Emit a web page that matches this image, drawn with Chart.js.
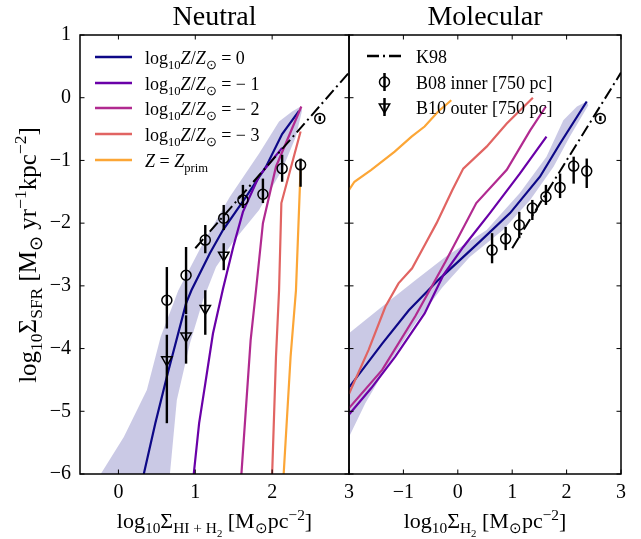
<!DOCTYPE html>
<html>
<head>
<meta charset="utf-8">
<title>Neutral / Molecular</title>
<script src="https://cdn.jsdelivr.net/npm/chart.js@4.4.1/dist/chart.umd.min.js"></script>
<style>
  html, body { margin: 0; padding: 0; background: #fff; }
  #fig { position: relative; width: 641px; height: 539px; overflow: hidden;
         font-family: 'Liberation Serif', 'Times New Roman', serif; color: #000; }
  canvas { position: absolute; top: 0; }
  svg { position: absolute; left: 0; top: 0; }
  .txt { position: absolute; white-space: nowrap; line-height: 1; }
  .txt sub, .txt sup { font-size: 70%; line-height: 0; }
  .title { top: 2px; font-size: 28px; transform: translateX(-50%); }
  .axis { font-size: 22px; }
  .leg { font-size: 18px; }
  #ytitle { left: 27px; top: 255px; font-size: 25px; transform: translate(-50%, -50%) rotate(-90deg); }
</style>
</head>
<body>
<div id="fig">
  <canvas id="neutral" width="362" height="539" style="left:0"></canvas>
  <canvas id="molecular" width="305" height="539" style="left:336px"></canvas>

  <!-- legend keys -->
  <svg width="641" height="539">
    <g stroke-width="2.5">
      <line x1="95" x2="132" y1="57" y2="57" stroke="#0d0887"/>
      <line x1="95" x2="132" y1="83" y2="83" stroke="#6a00a8"/>
      <line x1="95" x2="132" y1="108" y2="108" stroke="#b12a90"/>
      <line x1="95" x2="132" y1="134" y2="134" stroke="#e16462"/>
      <line x1="95" x2="132" y1="160" y2="160" stroke="#fca636"/>
      <line x1="367" x2="402" y1="56" y2="56" stroke="#000" stroke-dasharray="12 4 2 4"/>
    </g>
    <circle cx="384.5" cy="82" r="5" fill="none" stroke="#000" stroke-width="1.5"/>
    <line x1="384.5" x2="384.5" y1="73" y2="91" stroke="#000" stroke-width="2.5"/>
    <polygon points="379.3,104 389.7,104 384.5,113" fill="none" stroke="#000" stroke-width="1.5"/>
    <line x1="384.5" x2="384.5" y1="98" y2="116" stroke="#000" stroke-width="2.5"/>
  </svg>

  <div class="txt title" style="left:214.5px">Neutral</div>
  <div class="txt title" style="left:485px">Molecular</div>

  <div class="txt axis" id="ytitle">log<sub>10</sub>Σ<sub>SFR</sub> [M<sub>⊙</sub> yr<sup>−1</sup>kpc<sup>−2</sup>]</div>
  <div class="txt axis" style="left:214.5px; top:510px; transform:translateX(-50%)">log<sub>10</sub>Σ<sub>HI + H<sub>2</sub></sub> [M<sub>⊙</sub>pc<sup>−2</sup>]</div>
  <div class="txt axis" style="left:485px; top:510px; transform:translateX(-50%)">log<sub>10</sub>Σ<sub>H<sub>2</sub></sub> [M<sub>⊙</sub>pc<sup>−2</sup>]</div>

  <div class="txt leg" style="left:145px; top:48.5px">log<sub>10</sub><i>Z</i>/<i>Z</i><sub>⊙</sub> = 0</div>
  <div class="txt leg" style="left:145px; top:74.5px">log<sub>10</sub><i>Z</i>/<i>Z</i><sub>⊙</sub> = − 1</div>
  <div class="txt leg" style="left:145px; top:99.5px">log<sub>10</sub><i>Z</i>/<i>Z</i><sub>⊙</sub> = − 2</div>
  <div class="txt leg" style="left:145px; top:125.5px">log<sub>10</sub><i>Z</i>/<i>Z</i><sub>⊙</sub> = − 3</div>
  <div class="txt leg" style="left:145px; top:151.5px"><i>Z</i> = <i>Z</i><sub>prim</sub></div>

  <div class="txt leg" style="left:416px; top:47.5px">K98</div>
  <div class="txt leg" style="left:416px; top:73.5px">B08 inner [750 pc]</div>
  <div class="txt leg" style="left:416px; top:98.5px">B10 outer [750 pc]</div>
</div>

<script>
// ---- values ----
const yTicks = [-6, -5, -4, -3, -2, -1, 0, 1];
const xTicksNeutral = [0, 1, 2, 3];
const xTicksMolecular = [-1, 0, 1, 2, 3];

const seriesLabels = ['log10 Z/Zsun = 0', 'log10 Z/Zsun = -1', 'log10 Z/Zsun = -2', 'log10 Z/Zsun = -3', 'Z = Zprim'];

// neutral panel, [log Sigma_HI+H2, log Sigma_SFR]
const neutralZ0 = [[0.33, -6.0], [0.48, -5.19], [0.64, -4.40], [0.88, -3.28], [0.95, -3.07], [1.19, -2.48],
                   [1.36, -2.11], [1.66, -1.58], [1.92, -1.10], [2.13, -0.58], [2.35, -0.21]];
const neutralZm1 = [[0.98, -6.0], [1.05, -5.19], [1.13, -4.56], [1.23, -3.76], [1.36, -3.05], [1.50, -2.35],
                    [1.62, -1.82], [1.83, -1.25], [2.13, -0.80]];
const neutralZm2 = [[1.60, -6.0], [1.72, -3.87], [1.79, -3.07], [1.88, -2.0], [2.05, -1.10], [2.38, -0.14]];
const neutralZm3 = [[2.00, -6.0], [2.05, -4.13], [2.09, -3.07], [2.12, -1.68], [2.37, -0.54]];
const neutralPrim = [[2.15, -6.0], [2.24, -4.13], [2.31, -3.07], [2.37, -1.13]];
const neutralBand = [[-0.30, -6.2], [-0.23, -6.0], [0.07, -5.41], [0.37, -4.66], [0.55, -3.81], [0.78, -3.07],
                     [1.10, -2.32], [1.45, -1.58], [1.83, -0.89], [2.09, -0.38], [2.26, -0.22], [2.37, -0.14],
                     [2.39, -0.20], [2.31, -0.62], [2.13, -1.15], [1.83, -1.79], [1.49, -2.30], [1.27, -2.70],
                     [1.10, -3.23], [0.93, -3.92], [0.76, -4.82], [0.67, -6.0], [0.66, -6.2]];

// molecular panel, [log Sigma_H2, log Sigma_SFR]
const molecularZ0 = [[-2.0, -4.62], [-1.39, -3.92], [-0.90, -3.39], [-0.35, -2.90], [0.41, -2.29], [0.96, -1.84],
                     [1.51, -1.26], [1.88, -0.73], [2.37, -0.06]];
const molecularZm1 = [[-2.0, -5.05], [-1.59, -4.63], [-1.15, -4.13], [-0.61, -3.44], [-0.26, -2.82], [0.10, -2.38],
                      [0.59, -1.84], [1.14, -1.21], [1.63, -0.62]];
const molecularZm2 = [[-2.0, -4.95], [-1.39, -4.34], [-0.78, -3.48], [-0.23, -2.62], [0.34, -1.68], [0.90, -1.15],
                      [1.33, -0.52], [1.62, -0.14]];
const molecularZm3 = [[-2.0, -4.72], [-1.64, -4.02], [-1.33, -3.33], [-1.09, -2.96], [-0.84, -2.72], [-0.59, -2.32],
                      [-0.39, -2.0], [-0.10, -1.47], [0.10, -1.13], [0.53, -0.78], [0.90, -0.41], [1.38, 0.0]];
const molecularPrim = [[-2.0, -1.47], [-1.90, -1.34], [-1.59, -1.15], [-1.16, -0.86], [-0.85, -0.62], [-0.61, -0.46],
                       [-0.36, -0.22], [-0.12, -0.04]];
const molecularBand = [[-2.05, -3.79], [-1.39, -3.33], [-0.78, -2.91], [-0.23, -2.54], [0.53, -2.11], [1.14, -1.52],
                       [1.63, -0.94], [1.94, -0.36], [2.19, -0.14], [2.37, -0.06], [2.40, -0.12], [2.06, -0.62],
                       [1.76, -1.10], [1.33, -1.63], [0.83, -2.11], [0.22, -2.54], [-0.29, -3.03], [-0.78, -3.60],
                       [-1.27, -4.24], [-1.70, -4.87], [-2.05, -5.50]];

const k98 = [[1.0, -2.40], [3.0, 0.40]];

// observations
const b08X = [0.63, 0.88, 1.13, 1.37, 1.62, 1.88, 2.13, 2.37, 2.62];
const b08NeutralY  = [-3.23, -2.83, -2.27, -1.92, -1.63, -1.54, -1.13, -1.07, -0.33];
const b08NeutralLo = [-3.68, -3.45, -2.48, -2.11, -1.76, -1.68, -1.34, -1.42, -0.37];
const b08NeutralHi = [-2.70, -2.38, -2.03, -1.71, -1.39, -1.29, -0.91, -0.97, -0.29];
const b08MolecularY  = [-2.43, -2.25, -2.03, -1.76, -1.58, -1.43, -1.09, -1.17, -0.33];
const b08MolecularLo = [-2.64, -2.43, -2.24, -1.95, -1.71, -1.60, -1.37, -1.44, -0.37];
const b08MolecularHi = [-2.16, -2.06, -1.82, -1.63, -1.39, -1.21, -0.94, -0.97, -0.29];
const b10X = [0.63, 0.88, 1.13, 1.37];
const b10NeutralY  = [-4.18, -3.80, -3.36, -2.51];
const b10NeutralLo = [-5.19, -4.24, -3.78, -2.75];
const b10NeutralHi = [-3.78, -3.47, -3.07, -2.32];

// ---- drawing ----
const SERIF = "'Liberation Serif', 'Times New Roman', serif";
const lineColors = ['#0d0887', '#6a00a8', '#b12a90', '#e16462', '#fca636'];
const bandColor = 'rgba(13, 8, 135, 0.22)';

const xy = arr => arr.map(([x, y]) => ({ x, y }));
const pts = (xs, ys, lo, hi) => xs.map((x, i) => ({ x, y: ys[i], lo: lo[i], hi: hi[i] }));
const fmt = v => (v < 0 ? '\u2212' + Math.abs(v) : String(v));

// vertical error bars from the lo/hi of each point
const errorBars = {
  id: 'errorBars',
  afterDatasetsDraw(chart) {
    const { ctx, chartArea: a, scales: { x, y } } = chart;
    ctx.save();
    ctx.beginPath();
    ctx.rect(a.left, a.top, a.right - a.left, a.bottom - a.top);
    ctx.clip();
    ctx.strokeStyle = '#000';
    ctx.lineWidth = 2.4;
    chart.data.datasets.forEach(ds => {
      if (!ds.errorBars) return;
      ds.data.forEach(p => {
        const px = x.getPixelForValue(p.x);
        ctx.beginPath();
        ctx.moveTo(px, y.getPixelForValue(p.lo));
        ctx.lineTo(px, y.getPixelForValue(p.hi));
        ctx.stroke();
      });
    });
    ctx.restore();
  }
};

// box around the axes with inward ticks on all four sides
const frame = {
  id: 'frame',
  afterDatasetsDraw(chart, args, opts) {
    const { ctx, chartArea: a, scales: { x, y } } = chart;
    const len = 4.5;
    ctx.save();
    ctx.strokeStyle = '#000';
    ctx.lineWidth = 1;
    ctx.beginPath();
    opts.xTicks.forEach(v => {
      const px = x.getPixelForValue(v);
      ctx.moveTo(px, a.bottom); ctx.lineTo(px, a.bottom - len);
      ctx.moveTo(px, a.top); ctx.lineTo(px, a.top + len);
    });
    opts.yTicks.forEach(v => {
      const py = y.getPixelForValue(v);
      ctx.moveTo(a.left, py); ctx.lineTo(a.left + len, py);
      ctx.moveTo(a.right, py); ctx.lineTo(a.right - len, py);
    });
    ctx.stroke();
    ctx.lineWidth = 1.5;
    ctx.strokeRect(a.left, a.top, a.right - a.left, a.bottom - a.top);
    ctx.restore();
  }
};

function panel(id, cfg) {
  const datasets = [
    { label: 'band', data: xy(cfg.band), fill: 'shape', backgroundColor: bandColor,
      borderWidth: 0, pointRadius: 0, order: 20 },
    ...cfg.curves.map((c, i) => ({
      label: seriesLabels[i], data: xy(c), borderColor: lineColors[i], borderWidth: 2.2,
      pointRadius: 0, fill: false, order: 15 - i
    })),
    { label: 'K98', data: xy(k98), borderColor: '#000', borderWidth: 2, borderDash: [12, 4, 2, 4],
      pointRadius: 0, fill: false, order: 5 },
    ...cfg.points
  ];
  return new Chart(document.getElementById(id), {
    type: 'line',
    data: { datasets },
    options: {
      responsive: false,
      animation: false,
      layout: { padding: cfg.padding },
      plugins: {
        legend: { display: false },
        tooltip: { enabled: false },
        frame: { xTicks: cfg.xTicks, yTicks: yTicks }
      },
      scales: {
        x: {
          type: 'linear', min: cfg.xRange[0], max: cfg.xRange[1],
          afterBuildTicks: s => { s.ticks = cfg.xTicks.map(v => ({ value: v })); },
          afterFit: s => { s.height = 65; },
          grid: { display: false, drawTicks: false },
          border: { display: false },
          ticks: { padding: 7, autoSkip: false, maxRotation: 0, color: '#000',
                   font: { family: SERIF, size: 20 }, callback: fmt }
        },
        y: {
          type: 'linear', min: -6, max: 1, display: cfg.showY,
          afterBuildTicks: s => { s.ticks = yTicks.map(v => ({ value: v })); },
          afterFit: s => { s.width = cfg.showY ? 80 : 0; },
          grid: { display: false, drawTicks: false },
          border: { display: false },
          ticks: { padding: 9, autoSkip: false, color: '#000',
                   font: { family: SERIF, size: 20 }, callback: fmt }
        }
      }
    },
    plugins: [errorBars, frame]
  });
}

const circleStyle = { showLine: false, pointStyle: 'circle', pointRadius: 5, borderColor: '#000',
                      borderWidth: 1.5, backgroundColor: 'rgba(0,0,0,0)', errorBars: true, order: 1 };
const triangleStyle = { showLine: false, pointStyle: 'triangle', rotation: 180, pointRadius: 6,
                        borderColor: '#000', borderWidth: 1.5, backgroundColor: 'rgba(0,0,0,0)',
                        errorBars: true, order: 1 };

panel('neutral', {
  xRange: [-0.5, 3], xTicks: xTicksNeutral, showY: true,
  padding: { top: 35, right: 13, left: 0, bottom: 0 },
  band: neutralBand,
  curves: [neutralZ0, neutralZm1, neutralZm2, neutralZm3, neutralPrim],
  points: [
    { label: 'B08 inner [750 pc]', data: pts(b08X, b08NeutralY, b08NeutralLo, b08NeutralHi), ...circleStyle },
    { label: 'B10 outer [750 pc]', data: pts(b10X, b10NeutralY, b10NeutralLo, b10NeutralHi), ...triangleStyle }
  ]
});

panel('molecular', {
  xRange: [-2, 3], xTicks: xTicksMolecular, showY: false,
  padding: { top: 35, right: 20, left: 13, bottom: 0 },
  band: molecularBand,
  curves: [molecularZ0, molecularZm1, molecularZm2, molecularZm3, molecularPrim],
  points: [
    { label: 'B08 inner [750 pc]', data: pts(b08X, b08MolecularY, b08MolecularLo, b08MolecularHi), ...circleStyle }
  ]
});
</script>
</body>
</html>
